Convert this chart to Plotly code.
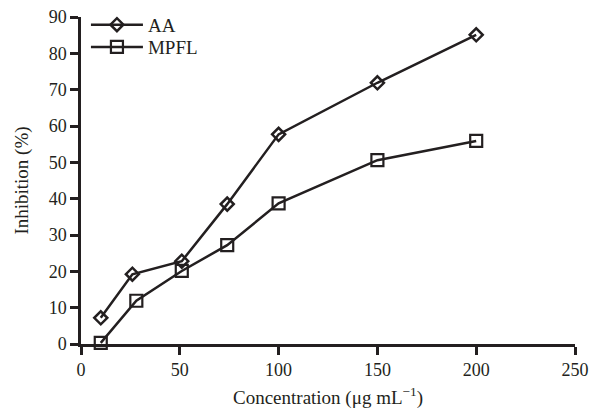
import plotly.graph_objects as go

aa_x = [10, 26, 51, 74, 100, 150, 200]
aa_y = [7.2, 19.2, 22.8, 38.5, 57.7, 71.9, 85.1]
mpfl_x = [10, 28, 51, 74, 100, 150, 200]
mpfl_y = [0.3, 11.9, 20.1, 27.2, 38.7, 50.6, 55.9]

x_ticks = [0, 50, 100, 150, 200, 250]
y_ticks = [0, 10, 20, 30, 40, 50, 60, 70, 80, 90]

ink = "#231f20"
font = "Liberation Serif, Times New Roman, serif"

fig = go.Figure()
fig.add_trace(go.Scatter(
    x=aa_x, y=aa_y, name="AA", mode="lines+markers", cliponaxis=False, legend="legend",
    line=dict(color=ink, width=2.5),
    marker=dict(symbol="diamond-open", size=10, color=ink, line=dict(width=2.5, color=ink)),
))
fig.add_trace(go.Scatter(
    x=mpfl_x, y=mpfl_y, name="MPFL", mode="lines+markers", cliponaxis=False, legend="legend2",
    line=dict(color=ink, width=2.5),
    marker=dict(symbol="square-open", size=12, color=ink, line=dict(width=2.2, color=ink)),
))

axis_common = dict(
    showline=True, linecolor=ink, linewidth=2.5, ticks="outside", ticklen=8,
    tickwidth=2.5, tickcolor=ink, showgrid=False, zeroline=False, automargin=False,
    ticklabeloverflow="allow",
    tickfont=dict(family=font, size=18, color=ink),
)
fig.update_xaxes(range=[0, 250], tickvals=x_ticks,
                 title=dict(text="Concentration (μg mL<sup>−1</sup>)", font=dict(family=font, size=19, color=ink), standoff=12),
                 **axis_common)
fig.update_yaxes(range=[0, 90], tickvals=y_ticks,
                 title=dict(text="Inhibition (%)", font=dict(family=font, size=19, color=ink), standoff=16),
                 **axis_common)

legend_common = dict(x=0.01, xanchor="left", yanchor="top", bgcolor="rgba(0,0,0,0)",
                     font=dict(family=font, size=19, color=ink), itemwidth=52)

fig.update_layout(
    width=592, height=415,
    margin=dict(l=81, r=17, t=17, b=71, autoexpand=False),
    paper_bgcolor="white", plot_bgcolor="white",
    font=dict(family=font, size=18, color=ink),
    showlegend=True,
    legend=dict(y=1.034, **legend_common),
    legend2=dict(y=0.966, **legend_common),
)
# remove the page's default body margin so the figure fills the window exactly
fig.write_html(
    "out.html",
    config={"displayModeBar": False},
    post_script="document.body.style.margin='0';document.documentElement.style.overflow='hidden';",
)
